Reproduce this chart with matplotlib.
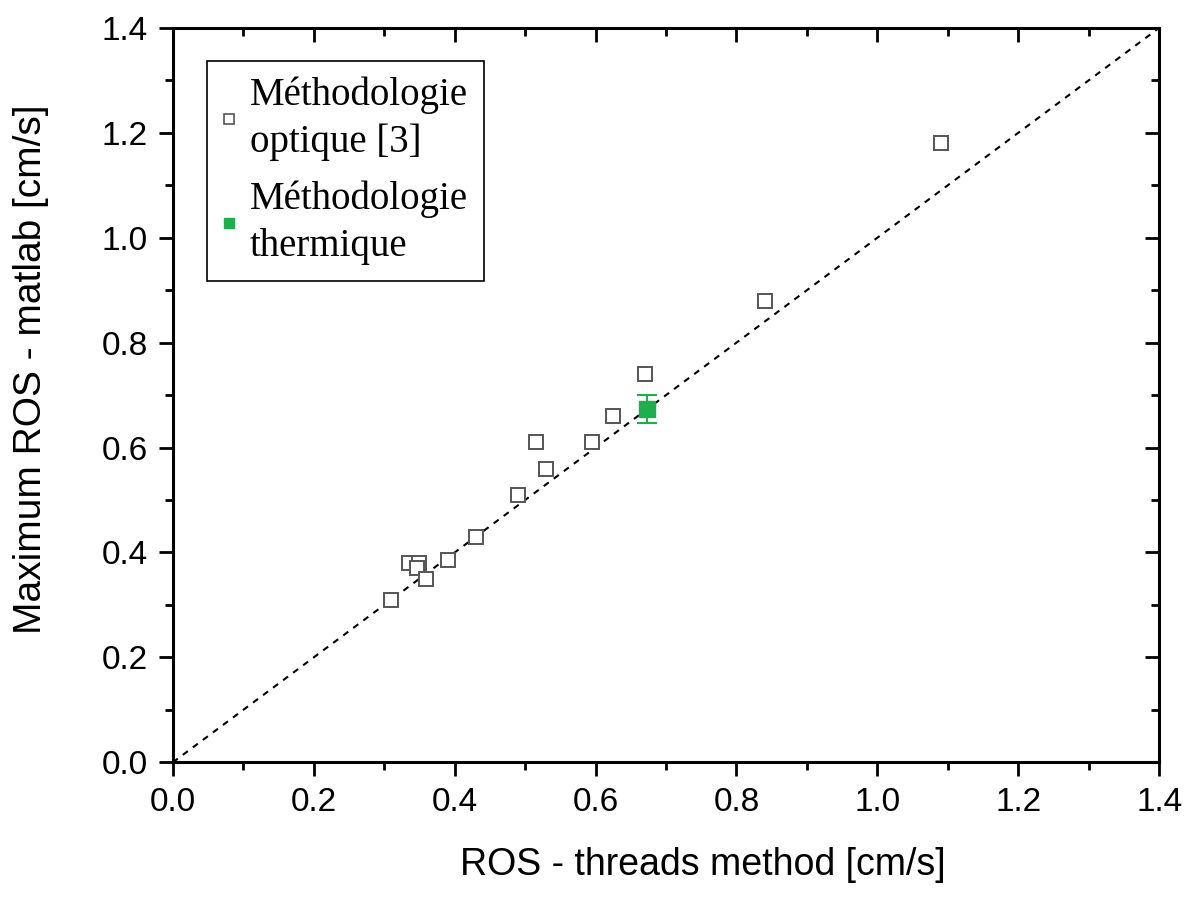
import numpy as np
import matplotlib.pyplot as plt
from matplotlib.lines import Line2D
from matplotlib.ticker import MultipleLocator

plt.rcParams['font.family'] = ['Liberation Sans', 'DejaVu Sans']

# optical method points (threads method x, matlab y)
optique_x = [0.31, 0.335, 0.35, 0.347, 0.36, 0.39, 0.43, 0.49, 0.515, 0.53, 0.595, 0.625, 0.67, 0.84, 1.09]
optique_y = [0.31, 0.38, 0.38, 0.37, 0.35, 0.385, 0.43, 0.51, 0.61, 0.56, 0.61, 0.66, 0.74, 0.88, 1.18]

# thermal method point
thermique_x = [0.673]
thermique_y = [0.673]
thermique_err = [0.027]

diag = [0.0, 1.4]

GREEN = '#1fae4b'
GREY = '#555555'

fig = plt.figure(figsize=(12, 8.99), dpi=100)
ax = fig.add_axes([0.144, 0.152, 0.822, 0.817])

ax.plot(diag, diag, color='black', linestyle=(0, (3, 3)), linewidth=1.5, zorder=1)
ax.plot(optique_x, optique_y, linestyle='none', marker='s', markersize=10,
        markerfacecolor='white', markeredgecolor=GREY, markeredgewidth=1.4, zorder=3)
ax.errorbar(thermique_x, thermique_y, yerr=thermique_err, linestyle='none', marker='s',
            markersize=11, color=GREEN, ecolor=GREEN, elinewidth=1.5, capsize=7,
            capthick=1.5, zorder=4)

ax.set_xlim(0, 1.4)
ax.set_ylim(0, 1.4)
ax.xaxis.set_major_locator(MultipleLocator(0.2))
ax.yaxis.set_major_locator(MultipleLocator(0.2))
ax.xaxis.set_minor_locator(MultipleLocator(0.1))
ax.yaxis.set_minor_locator(MultipleLocator(0.1))
ax.xaxis.set_major_formatter(plt.FormatStrFormatter('%.1f'))
ax.yaxis.set_major_formatter(plt.FormatStrFormatter('%.1f'))

for s in ax.spines.values():
    s.set_linewidth(2.2)

ax.tick_params(which='both', direction='out', width=2, labelsize=24, pad=8)
ax.tick_params(which='major', length=10)
ax.tick_params(which='minor', length=6)
ax.tick_params(which='both', top=True, right=True)
# top / right ticks drawn inward
for t in ax.xaxis.get_major_ticks() + ax.xaxis.get_minor_ticks():
    t.tick2line.set_marker(3)
for t in ax.yaxis.get_major_ticks() + ax.yaxis.get_minor_ticks():
    t.tick2line.set_marker(0)

ax.set_xlabel('ROS - threads method [cm/s]', fontsize=27)
ax.set_ylabel('Maximum ROS - matlab [cm/s]', fontsize=28)
ax.xaxis.set_label_coords(0.5375, -0.115)
ax.yaxis.set_label_coords(-0.125, 0.535)

handles = [
    Line2D([], [], linestyle='none', marker='s', markersize=7, markerfacecolor='white',
           markeredgecolor=GREY, markeredgewidth=1.2),
    Line2D([], [], linestyle='none', marker='s', markersize=7, color=GREEN),
]
labels = ['Méthodologie\noptique [3]', 'Méthodologie\nthermique']
leg = ax.legend(handles, labels, loc='upper left', bbox_to_anchor=(0.035, 0.955),
                fancybox=False, edgecolor='black', framealpha=1, handlelength=0.3,
                handletextpad=0.4, borderpad=0.4, borderaxespad=0, labelspacing=0.5,
                prop={'family': 'Liberation Serif', 'size': 28})
leg.get_frame().set_linewidth(1.2)
for t in leg.get_texts():
    t.set_linespacing(1.35)

fig.savefig('out.png', dpi=100)
